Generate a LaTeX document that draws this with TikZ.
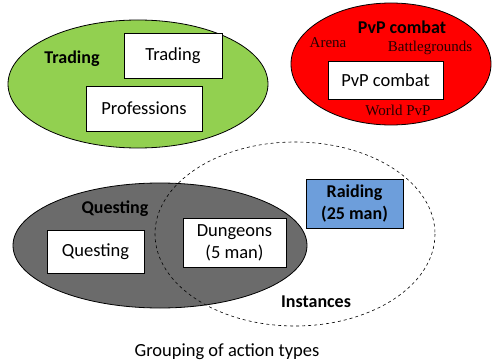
\documentclass[tikz,border=0pt]{standalone}
\usepackage{fontspec}
\setmainfont{Carlito}
\newfontfamily\timesfont{Liberation Serif}
\usepackage{tikz}

\definecolor{tradegreen}{HTML}{92D050}
\definecolor{pvpred}{HTML}{FF0000}
\definecolor{questgray}{HTML}{6B6B6B}
\definecolor{raidblue}{HTML}{6D9EDB}

\begin{document}
\begin{tikzpicture}[x=1pt,y=-1pt]

        \tikzstyle{every node}=[font=\fontsize{18.5}{22}\selectfont]
        \tikzstyle{actionbox}=[draw=black, fill=white, line width=0.9pt, inner sep=0pt, align=center]
        \tikzstyle{grouplabel}=[font=\fontsize{18}{22}\selectfont\bfseries]
        \tikzstyle{pvplabel}=[font=\fontsize{15}{18}\selectfont\timesfont, text=black!85!red]

        % Fix the margins
        \useasboundingbox (0,0) rectangle (493,361);

        % Draw the group areas
        \draw [fill=tradegreen, line width=0.8pt] (138,84) ellipse (130 and 64);
        \draw [fill=pvpred, line width=0.8pt] (391,64) ellipse (100 and 61);
        \draw [fill=questgray, line width=0.8pt] (160,245.5) ellipse (147 and 62.5);
        \draw [dashed, line width=0.6pt] (295,234) ellipse (140 and 92);

        % Add the group labels
        \node[grouplabel] (tradinglabel) at (72,59) {Trading};
        \node[grouplabel] (pvplabel) at (402,27) {PvP combat};
        \node[grouplabel] (questinglabel) at (115,209) {Questing};
        \node[grouplabel] (instanceslabel) at (316,302) {Instances};

        % Add the PvP sub-labels
        \node[pvplabel] (arena) at (328,43) {Arena};
        \node[pvplabel] (battlegrounds) at (430,48) {Battlegrounds};
        \node[pvplabel] (worldpvp) at (398,110) {World PvP};

        % Draw the action boxes
        \node[actionbox, minimum width=98pt, minimum height=45pt] (trading) at (173,55.5) {Trading};
        \node[actionbox, minimum width=116pt, minimum height=45pt] (professions) at (144,108.5) {Professions};
        \node[actionbox, minimum width=115pt, minimum height=38pt] (pvpcombat) at (385.5,80) {PvP combat};
        \node[actionbox, minimum width=97pt, minimum height=43pt] (questing) at (95.5,251.5) {Questing};
        \node[actionbox, minimum width=103pt, minimum height=49pt] (dungeons) at (234.5,242.5) {Dungeons\\(5 man)};
        \node[actionbox, fill=raidblue, minimum width=97pt, minimum height=49pt, font=\fontsize{18}{22}\selectfont\bfseries] (raiding) at (354.5,203.5) {Raiding\\(25 man)};

        % Add the caption
        \node (caption) at (227,352) {Grouping of action types};
    \end{tikzpicture}
\end{document}
